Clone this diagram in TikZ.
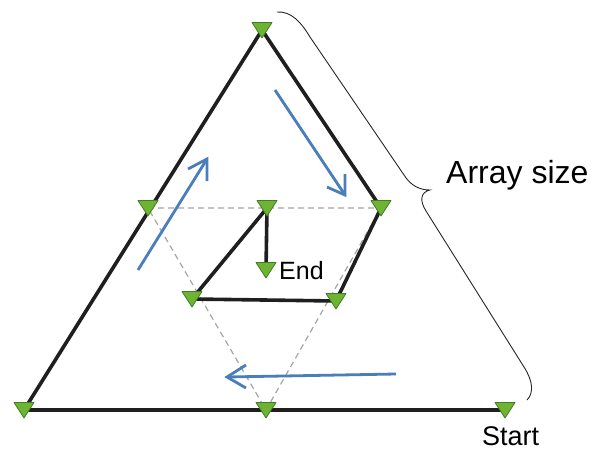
\documentclass[tikz,border=0pt]{standalone}
\usepackage{fontspec}
\setmainfont{Liberation Sans}
\definecolor{mgreen}{RGB}{110,180,50}
\definecolor{mgreendark}{RGB}{65,125,40}
\definecolor{ablue}{RGB}{74,126,187}
\definecolor{dgray}{RGB}{165,165,165}
\begin{document}
\begin{tikzpicture}[x=1pt,y=-1pt,
  pathline/.style={line width=3.6pt,black!88,line join=round,line cap=round},
  guide/.style={line width=1.2pt,dgray,dash pattern=on 6pt off 4pt},
  flow/.style={line width=2.8pt,ablue},
  barb/.style={line width=2.8pt,ablue,line join=miter,line cap=butt},
  bracestyle/.style={line width=0.9pt,black!85},
  lbl/.style={inner sep=0pt,anchor=base west,text=black},
  tri/.pic={\draw[fill=mgreen,draw=mgreendark,line width=0.8pt,line join=round] (-10,-7.5) -- (10,-7.5) -- (0,8) -- cycle;}]
\useasboundingbox (0,0) rectangle (595,451);
% vertices
\coordinate (S) at (505,410);
\coordinate (BM) at (266,410);
\coordinate (BL) at (24,410);
\coordinate (T) at (262,30);
\coordinate (LM) at (148,208);
\coordinate (RM) at (381,208);
\coordinate (IR) at (336,301);
\coordinate (IL) at (192,299);
\coordinate (CT) at (267,208);
\coordinate (E) at (266,270);
% dashed guide triangle
\draw[guide] (LM) -- (RM) -- (BM) -- cycle;
% spiral path
\draw[pathline] (S) -- (BL) -- (T) -- (RM) -- (IR) -- (IL) -- (CT) -- (E);
% markers
\foreach \p in {S,BM,BL,T,LM,RM,IR,IL,CT,E} \pic at (\p) {tri};
% blue arrows
\coordinate (a1s) at (138,270); \coordinate (a1e) at (207,159);
\coordinate (a1l) at (188,169); \coordinate (a1r) at (207,181);
\coordinate (a2s) at (275,90);  \coordinate (a2e) at (345,195);
\coordinate (a2l) at (327,187); \coordinate (a2r) at (345,174);
\coordinate (a3s) at (396,374); \coordinate (a3e) at (227,377);
\coordinate (a3l) at (246,365); \coordinate (a3r) at (246,388);
\draw[flow] (a1s) -- (a1e);
\draw[barb] (a1l) -- (a1e) -- (a1r);
\draw[flow] (a2s) -- (a2e);
\draw[barb] (a2l) -- (a2e) -- (a2r);
\draw[flow] (a3s) -- (a3e);
\draw[barb] (a3l) -- (a3e) -- (a3r);
% brace
\coordinate (b1) at (277,12);
\coordinate (btip) at (430,190);
\coordinate (b2) at (527,400);
\draw[bracestyle] (b1) .. controls (291,11) and (301,22) .. (310,37)
  -- (404,175) .. controls (411,186) and (420,190) .. (btip)
  .. controls (421,192) and (419,200) .. (426,211)
  -- (524,367) .. controls (533,381) and (534,393) .. (b2);
% labels
\node[lbl,font=\fontsize{32}{38}\selectfont] (arr) at (446,183) {Array size};
\node[lbl,font=\fontsize{25}{30}\selectfont] (endl) at (279,279) {End};
\node[lbl,font=\fontsize{27}{32}\selectfont] (startl) at (482,445) {Start};
\end{tikzpicture}
\end{document}
